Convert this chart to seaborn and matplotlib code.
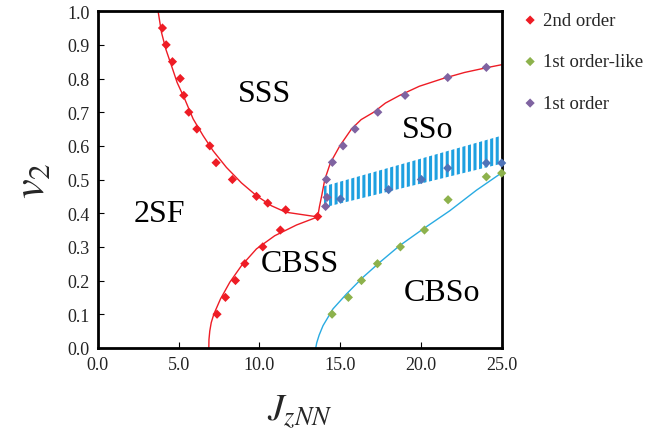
import matplotlib
matplotlib.use("Agg")
import matplotlib.pyplot as plt
import seaborn as sns
import numpy as np
import pandas as pd

# ---------------- data ----------------
# 2nd order transition points (red)
second_x = [4.0, 4.23, 4.62, 5.10, 5.32, 5.63, 6.13, 6.93, 7.32, 8.33, 9.82, 10.52, 11.63, 13.61,
            11.3, 10.21, 9.10, 8.52, 7.90, 7.38]
second_y = [0.95, 0.90, 0.85, 0.80, 0.75, 0.70, 0.65, 0.60, 0.55, 0.50, 0.45, 0.43, 0.41, 0.39,
            0.35, 0.30, 0.25, 0.20, 0.15, 0.10]

# 1st order-like points (green)
like_x = [14.5, 15.51, 16.32, 17.31, 18.73, 20.22, 21.68, 24.05, 25.0]
like_y = [0.10, 0.15, 0.20, 0.25, 0.30, 0.35, 0.44, 0.508, 0.519]

# 1st order points (purple)
first_x = [14.1, 14.19, 14.15, 14.52, 15.18, 15.92, 17.33, 19.02, 21.66, 24.05]
first_y = [0.42, 0.447, 0.50, 0.551, 0.60, 0.65, 0.70, 0.75, 0.803, 0.833]

# points inside the hatched band (blue)
band_pts_x = [15.02, 18.0, 20.03, 21.66, 24.05, 25.0]
band_pts_y = [0.442, 0.47, 0.50, 0.534, 0.549, 0.549]

# boundary lines
sss_line_x = [3.73, 3.94, 4.21, 4.56, 4.91, 5.38, 5.90, 6.52, 7.14, 7.96, 8.89, 9.82, 10.75, 11.63, 13.61]
sss_line_y = [1.0, 0.937, 0.887, 0.838, 0.788, 0.739, 0.68, 0.63, 0.585, 0.536, 0.49, 0.452, 0.422, 0.403, 0.389]

cbss_line_x = [6.87, 6.88, 6.93, 7.02, 7.18, 7.59, 8.17, 8.89, 9.82, 10.95, 12.30, 13.61]
cbss_line_y = [0.0, 0.025, 0.05, 0.075, 0.10, 0.145, 0.195, 0.244, 0.294, 0.333, 0.365, 0.389]

sso_line_x = [13.61, 13.72, 13.85, 14.05, 14.4, 14.98, 15.7, 16.3, 17.08, 17.8, 18.69, 19.9, 21.37, 22.7, 24.05, 25.0]
sso_line_y = [0.389, 0.42, 0.45, 0.50, 0.55, 0.60, 0.65, 0.678, 0.70, 0.727, 0.75, 0.777, 0.80, 0.818, 0.832, 0.841]

cbso_line_x = [13.49, 13.55, 13.7, 13.94, 14.56, 15.39, 16.42, 17.45, 18.69, 20.13, 21.78, 23.43, 25.0]
cbso_line_y = [0.0, 0.015, 0.038, 0.066, 0.116, 0.16, 0.21, 0.254, 0.304, 0.353, 0.407, 0.468, 0.52]

# hatched band
band_x = [14.0, 24.9]
band_low = [0.417, 0.546]
band_high = [0.48, 0.629]

# phase labels
phase_names = ["SSS", "2SF", "CBSS", "SSo", "CBSo"]
phase_x = [10.3, 3.8, 12.5, 20.4, 21.3]
phase_y = [0.755, 0.40, 0.25, 0.65, 0.165]

xticks = [0.0, 5.0, 10.0, 15.0, 20.0, 25.0]
yticks = [0.0, 0.1, 0.2, 0.3, 0.4, 0.5, 0.6, 0.7, 0.8, 0.9, 1.0]

# ---------------- plot ----------------
sns.set_theme(style="white")
plt.rcParams["font.family"] = ["Liberation Serif", "DejaVu Serif"]
plt.rcParams["mathtext.fontset"] = "stix"
plt.rcParams["hatch.linewidth"] = 2.2
plt.rcParams["hatch.color"] = "#1ea0e0"

RED = "#ee1c25"
CYAN = "#29abe2"
GREEN = "#8db24c"
PURPLE = "#7f63a1"
BLUE = "#4f73b8"

fig = plt.figure(figsize=(6.61, 4.35), dpi=100)
ax = fig.add_axes([0.148, 0.198, 0.611, 0.774])

ax.fill_between(band_x, band_low, band_high, facecolor="none", edgecolor="#1ea0e0",
                hatch="|||", linewidth=0, zorder=1)

for lx, ly, c in [(sss_line_x, sss_line_y, RED), (cbss_line_x, cbss_line_y, RED),
                  (sso_line_x, sso_line_y, RED), (cbso_line_x, cbso_line_y, CYAN)]:
    sns.lineplot(x=lx, y=ly, sort=False, estimator=None, color=c, linewidth=1.0, ax=ax, zorder=2)

sns.scatterplot(x=second_x, y=second_y, marker="D", s=22, color=RED, edgecolor="none",
                label="2nd order", ax=ax, zorder=3)
sns.scatterplot(x=like_x, y=like_y, marker="D", s=22, color=GREEN, edgecolor="none",
                label="1st order-like", ax=ax, zorder=3, clip_on=False)
sns.scatterplot(x=first_x, y=first_y, marker="D", s=22, color=PURPLE, edgecolor="none",
                label="1st order", ax=ax, zorder=3)
sns.scatterplot(x=band_pts_x, y=band_pts_y, marker="D", s=22, color=BLUE, edgecolor="none",
                ax=ax, zorder=3, clip_on=False)

for name, px, py in zip(phase_names, phase_x, phase_y):
    ax.text(px, py, name, fontsize=23, ha="center", va="center", color="black")

ax.set_xlim(0, 25)
ax.set_ylim(0, 1)
ax.set_xticks(xticks)
ax.set_xticklabels([f"{t:.1f}" for t in xticks])
ax.set_yticks(yticks)
ax.set_yticklabels([f"{t:.1f}" for t in yticks])
ax.tick_params(axis="both", direction="in", length=4, width=0.8, labelsize=13, pad=6,
               bottom=True, left=True, colors="black")
ax.tick_params(axis="both", labelcolor="#222222")
for sp in ax.spines.values():
    sp.set_linewidth(2.0)
    sp.set_color("black")

ax.set_xlabel(r"$J_{zNN}$", fontsize=27, labelpad=14)
ax.set_ylabel(r"$v_2$", fontsize=32, labelpad=10)

leg = ax.legend(loc="upper left", bbox_to_anchor=(1.01, 1.037), frameon=False, fontsize=13.5,
                labelspacing=1.3, handletextpad=0.1, handlelength=1.2, borderaxespad=0.3)
for h in leg.legend_handles:
    h.set_sizes([22])

fig.savefig("out.png", dpi=100)
